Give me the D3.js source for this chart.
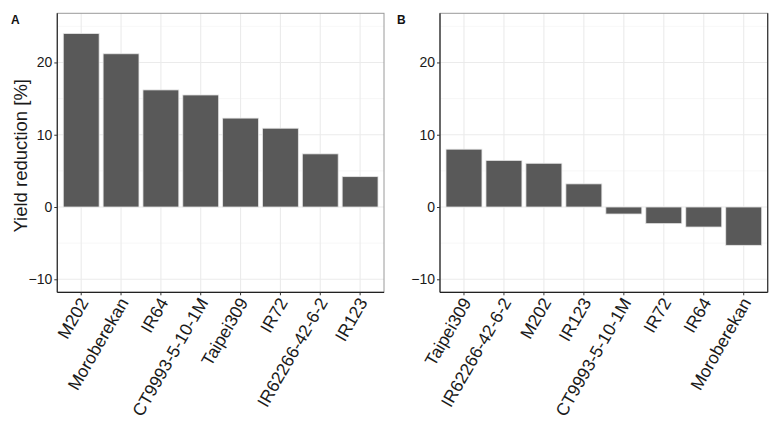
<!DOCTYPE html>
<html><head><meta charset="utf-8">
<script src="https://cdn.jsdelivr.net/npm/d3@7"></script>
<style>body{margin:0;background:#fff}svg{display:block}text{font-family:"Liberation Sans",Arial,sans-serif}</style>
</head><body><svg id="c" width="779" height="424"></svg>
<script>
const categoriesA = ["M202","Moroberekan","IR64","CT9993-5-10-1M","Taipei309","IR72","IR62266-42-6-2","IR123"];
const valuesA = [24.0, 21.2, 16.2, 15.5, 12.3, 10.9, 7.35, 4.2];
const categoriesB = ["Taipei309","IR62266-42-6-2","M202","IR123","CT9993-5-10-1M","IR72","IR64","Moroberekan"];
const valuesB = [8.0, 6.45, 6.05, 3.2, -0.97, -2.3, -2.77, -5.3];
const yTicks = [-10, 0, 10, 20];
const yMinor = [-5, 5, 15, 25];
const panelLabels = ["A","B"];
const yTitle = "Yield reduction [%]";

(function () {
const svg = d3.select("#c");
const pTop = 13.3, pBottom = 292.3;
const y = d3.scaleLinear().domain([-11.8, 26.8]).range([pBottom, pTop]);

function panel(cats, vals, x0, x1, label, rightDark) {
  const x = d3.scaleBand().domain(cats).range([x0, x1]).paddingInner(0.1).paddingOuter(0.15);
  const g = svg.append("g");
  g.selectAll(".gmin").data(yMinor).join("line")
    .attr("x1", x0).attr("x2", x1).attr("y1", d => y(d)).attr("y2", d => y(d))
    .attr("stroke", "#f2f2f2").attr("stroke-width", 0.6);
  g.selectAll(".gmaj").data(yTicks).join("line")
    .attr("x1", x0).attr("x2", x1).attr("y1", d => y(d)).attr("y2", d => y(d))
    .attr("stroke", "#ebebeb").attr("stroke-width", 1.1);
  g.selectAll(".gx").data(cats).join("line")
    .attr("x1", d => x(d) + x.bandwidth() / 2).attr("x2", d => x(d) + x.bandwidth() / 2)
    .attr("y1", pTop).attr("y2", pBottom)
    .attr("stroke", "#ebebeb").attr("stroke-width", 1.1);
  g.selectAll(".bar").data(cats).join("rect")
    .attr("x", d => x(d))
    .attr("width", x.bandwidth())
    .attr("y", (d, i) => y(Math.max(0, vals[i])))
    .attr("height", (d, i) => Math.abs(y(vals[i]) - y(0)))
    .attr("fill", "#595959").attr("stroke", "#e6e6e6").attr("stroke-width", 0.8);
  g.append("rect").attr("x", x0).attr("y", pTop).attr("width", x1 - x0).attr("height", pBottom - pTop)
    .attr("fill", "none").attr("stroke", "#9a9a9a").attr("stroke-width", 1);
  g.append("line").attr("x1", x0).attr("x2", x0).attr("y1", pTop).attr("y2", pBottom)
    .attr("stroke", "#333").attr("stroke-width", 1.3);
  g.append("line").attr("x1", x0).attr("x2", x1).attr("y1", pBottom).attr("y2", pBottom)
    .attr("stroke", "#222").attr("stroke-width", 1.3);
  if (rightDark) g.append("line").attr("x1", x1).attr("x2", x1).attr("y1", pTop).attr("y2", pBottom)
    .attr("stroke", "#333").attr("stroke-width", 1.2);
  const ya = g.append("g").attr("transform", `translate(${x0},0)`)
    .call(d3.axisLeft(y).tickValues(yTicks).tickSize(3).tickPadding(2).tickFormat(d3.format("d")));
  ya.select(".domain").remove();
  ya.selectAll("line").attr("stroke", "#333");
  ya.selectAll("text").attr("font-size", 14).attr("fill", "#1a1a1a");
  const xa = g.append("g").attr("transform", `translate(0,${pBottom})`)
    .call(d3.axisBottom(x).tickSize(3).tickPadding(0));
  xa.select(".domain").remove();
  xa.selectAll("line").attr("stroke", "#333");
  xa.selectAll("text").attr("font-size", 17.5).attr("fill", "#1a1a1a")
    .attr("text-anchor", "end").attr("dy", null).attr("y", 0)
    .attr("transform", "translate(8,10) rotate(-60)");
  svg.append("text").attr("x", label === "A" ? 11 : 397).attr("y", 24)
    .attr("font-size", 12).attr("font-weight", "bold").attr("fill", "#111").text(label);
}

panel(categoriesA, valuesA, 57.3, 384, panelLabels[0], false);
panel(categoriesB, valuesB, 440, 767.7, panelLabels[1], true);

svg.append("text").attr("transform", `translate(27,${(pTop + pBottom) / 2 + 3}) rotate(-90)`)
  .attr("text-anchor", "middle").attr("font-size", 18.5).attr("fill", "#1a1a1a").text(yTitle);
})();
</script></body></html>
